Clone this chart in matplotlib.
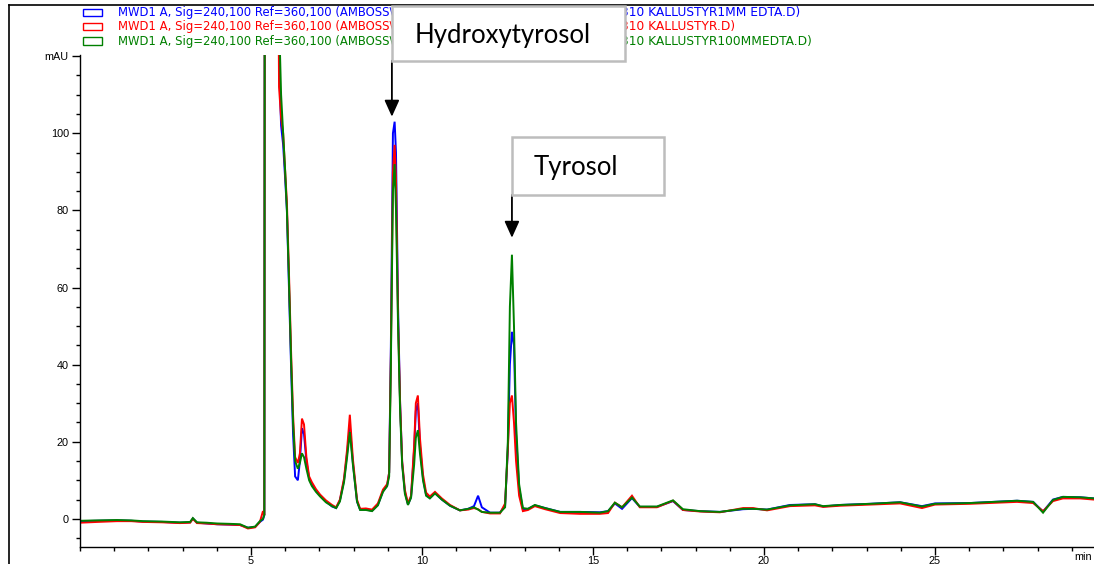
import matplotlib
matplotlib.use("Agg")
import matplotlib.pyplot as plt
from matplotlib.patches import Rectangle
from matplotlib.lines import Line2D
from matplotlib.ticker import MultipleLocator

# ---------------- data ----------------
time_min = [0.00, 0.50, 1.08, 1.50, 1.84, 2.40, 2.92, 3.22, 3.30, 3.42, 3.70, 4.01, 4.40, 4.68,
            4.91, 5.12, 5.26, 5.35, 5.39, 5.41, 5.60, 5.76, 5.82, 5.88, 5.94, 6.00, 6.05, 6.11,
            6.17, 6.23, 6.29, 6.37, 6.43, 6.49, 6.55, 6.62, 6.70, 6.78, 6.90, 7.02, 7.19, 7.37,
            7.49, 7.60, 7.72, 7.81, 7.89, 7.98, 8.10, 8.19, 8.36, 8.54, 8.71, 8.86, 8.98, 9.04,
            9.09, 9.15, 9.20, 9.24, 9.30, 9.36, 9.42, 9.50, 9.59, 9.68, 9.77, 9.82, 9.88, 9.94,
            10.03, 10.12, 10.23, 10.38, 10.58, 10.82, 11.11, 11.35, 11.52, 11.64, 11.75, 11.99,
            12.28, 12.43, 12.51, 12.57, 12.63, 12.69, 12.75, 12.84, 12.95, 13.10, 13.30, 13.60,
            14.04, 14.62, 15.20, 15.44, 15.64, 15.85, 16.14, 16.37, 16.87, 17.34, 17.63, 18.13,
            18.71, 19.39, 19.68, 20.09, 20.76, 21.49, 21.73, 22.22, 23.10, 23.98, 24.62, 25.00,
            26.02, 27.40, 27.87, 28.16, 28.45, 28.74, 29.24, 29.65]

green_100mM_edta = [-0.5, -0.4, -0.3, -0.4, -0.6, -0.7, -0.9, -0.8, 0.2, -0.9, -1.0, -1.2, -1.3, -1.4,
                    -2.3, -2.0, -0.6, 0.0, 1.0, 250, 300, 200, 130, 110, 100, 90, 80, 62,
                    42, 25, 15, 13, 14.5, 17, 16, 13, 10, 8.5, 7, 5.8, 4.3, 3.3,
                    2.8, 4.5, 9.5, 16, 22.5, 14, 4.5, 2.3, 2.3, 2.0, 3.5, 7.0, 8.5, 11,
                    40, 85, 92, 80, 50, 28, 14, 6.5, 3.6, 5.5, 14, 21, 23, 17,
                    10, 6.0, 5.3, 6.6, 5.0, 3.4, 2.2, 2.6, 3.0, 2.4, 1.8, 1.6,
                    1.6, 3.0, 20, 55, 68.5, 50, 25, 9, 2.8, 2.6, 3.6, 2.8,
                    1.8, 1.8, 1.6, 2.0, 4.2, 3.0, 5.5, 3.2, 3.2, 4.8, 2.5, 2.0,
                    1.8, 2.6, 2.6, 2.4, 3.5, 3.8, 3.3, 3.6, 3.9, 4.3, 3.2, 3.9,
                    4.1, 4.7, 4.4, 1.6, 4.9, 5.7, 5.6, 5.3]

blue_1mM_edta = [-0.6, -0.5, -0.4, -0.5, -0.7, -0.8, -1.0, -0.9, 0.1, -1.0, -1.2, -1.4, -1.5, -1.6,
                 -2.3, -2.1, -0.8, -0.2, 1.0, 250, 300, 200, 118, 102, 97, 88, 80, 60,
                 40, 22, 11, 10, 15, 23.5, 22, 15, 10.5, 9, 7.3, 6, 4.5, 3.2,
                 2.8, 4.8, 10, 17, 24, 14.5, 4.5, 2.4, 2.4, 2.1, 3.6, 7.2, 8.5, 12,
                 45, 100, 103, 95, 55, 30, 14.5, 7, 3.7, 5.6, 18, 28, 30, 19,
                 10.5, 6.2, 5.4, 6.7, 5.0, 3.4, 2.2, 2.6, 3.3, 6.0, 3.0, 1.6,
                 1.6, 3.5, 18, 40, 48.5, 45, 22, 8, 2.5, 2.6, 3.5, 2.8,
                 1.8, 1.8, 1.7, 2.0, 4.0, 2.6, 5.4, 3.1, 3.1, 4.6, 2.3, 2.0,
                 1.8, 2.5, 2.6, 2.4, 3.6, 3.8, 3.2, 3.6, 3.9, 4.3, 3.3, 4.0,
                 4.1, 4.7, 4.4, 1.9, 5.0, 5.7, 5.6, 5.3]

red_no_edta = [-1.0, -0.8, -0.6, -0.6, -0.8, -0.9, -1.1, -1.0, 0.0, -1.1, -1.2, -1.4, -1.5, -1.6,
               -2.5, -2.2, -0.8, 2.0, 1.0, 250, 300, 200, 112, 104, 100, 90, 82, 64,
               44, 27, 16, 14.5, 17, 26, 24.5, 16, 11, 9.5, 7.7, 6.3, 4.8, 3.6,
               3.0, 5.0, 10.5, 18, 27, 15.5, 5, 2.6, 2.7, 2.4, 4.0, 7.6, 9.0, 12,
               42, 90, 97, 88, 52, 30, 15, 7.5, 4.0, 6.0, 19, 30, 32, 21,
               11.5, 6.8, 5.8, 7.0, 5.3, 3.6, 2.2, 2.4, 2.8, 2.5, 1.8, 1.4,
               1.4, 4.0, 18, 30, 32, 25, 15, 6, 2.0, 2.3, 3.3, 2.5,
               1.5, 1.3, 1.3, 1.5, 4.2, 3.0, 6.0, 3.0, 3.0, 4.7, 2.3, 1.9,
               1.7, 2.8, 2.8, 2.2, 3.3, 3.5, 3.1, 3.4, 3.7, 4.0, 2.8, 3.7,
               3.9, 4.4, 4.1, 2.0, 4.6, 5.3, 5.3, 5.0]

legend_prefix = "MWD1 A, Sig=240,100 Ref=360,100 (AMBOSS\\"
legend_suffixes = ["310 KALLUSTYR1MM EDTA.D)", "310 KALLUSTYR.D)", "310 KALLUSTYR100MMEDTA.D)"]
trace_colors = ["#0000ff", "#ff0000", "#008000"]

y_ticks = [0, 20, 40, 60, 80, 100, 120]
y_tick_labels = ["0", "20", "40", "60", "80", "100", "mAU"]
x_ticks = [5, 10, 15, 20, 25]
x_tick_labels = ["5", "10", "15", "20", "25"]

# ---------------- figure ----------------
W, H = 1094, 564
fig = plt.figure(figsize=(W / 100, H / 100), dpi=100)
fig.patch.set_facecolor("white")

def fx(px):
    return px / W

def fy(py):
    return 1 - py / H

ax = fig.add_axes([fx(80), fy(547), fx(W) - fx(80), fy(55) - fy(547)])
ax.set_xlim(0, 29.65)
ax.set_ylim(-7.3, 120.3)

for vals, col in zip([blue_1mM_edta, red_no_edta, green_100mM_edta], trace_colors):
    ax.plot(time_min, vals, color=col, lw=1.4, solid_joinstyle="miter")

for s in ["top", "right"]:
    ax.spines[s].set_visible(False)
for s in ["left", "bottom"]:
    ax.spines[s].set_linewidth(1.0)

tick_font = "Liberation Sans"
ax.set_yticks(y_ticks)
ax.set_yticklabels(y_tick_labels, fontfamily=tick_font, fontsize=7.8)
ax.set_xticks(x_ticks)
ax.set_xticklabels(x_tick_labels, fontfamily=tick_font, fontsize=7.8)
ax.xaxis.set_minor_locator(MultipleLocator(1))
ax.yaxis.set_minor_locator(MultipleLocator(5))
ax.tick_params(which="major", direction="out", length=6, width=1, pad=2)
ax.tick_params(axis="x", which="major", pad=0.5)
ax.tick_params(which="minor", direction="out", length=3, width=1)

fig.text(fx(1092), fy(557), "min", fontfamily=tick_font, fontsize=7.8, va="center", ha="right")

# outer frame lines
fig.add_artist(Line2D([fx(9), fx(W)], [fy(5), fy(5)], color="black", lw=1.2))
fig.add_artist(Line2D([fx(9), fx(9)], [fy(5), fy(H)], color="black", lw=1.2))

# legend
row_y = [12.5, 26.5, 41]
for ry, col, suf in zip(row_y, trace_colors, legend_suffixes):
    fig.add_artist(Rectangle((fx(83), fy(ry + 3.5)), fx(19), 7 / H, fill=False,
                             edgecolor=col, lw=1.0))
    fig.text(fx(118), fy(ry), legend_prefix, color=col, fontfamily="DejaVu Sans",
             fontsize=8.4, va="center", ha="left")
    fig.text(fx(621), fy(ry), suf, color=col, fontfamily="DejaVu Sans",
             fontsize=8.8, va="center", ha="left")

# annotation boxes (figure pixel geometry)
def box(x0, x1, y0, y1):
    fig.add_artist(Rectangle((fx(x0), fy(y1)), fx(x1 - x0), (y1 - y0) / H,
                             facecolor="white", edgecolor="#bdbdbd", lw=1.8, zorder=5))

box(392, 625, 6, 61)
fig.text(fx(503), fy(36), "Hydroxytyrosol", fontfamily="Lato", fontsize=18.5,
         ha="center", va="center", zorder=6)
box(512, 664, 137, 195)
fig.text(fx(576), fy(167), "Tyrosol", fontfamily="Lato", fontsize=18.5,
         ha="center", va="center", zorder=6)

# arrows pointing at the peaks (data coordinates)
ax.annotate("", xy=(9.12, 104.3), xytext=(9.12, 118.8), xycoords="data",
            arrowprops=dict(arrowstyle="-|>,head_length=1.0,head_width=0.45",
                            color="black", lw=1.3, shrinkA=0, shrinkB=0),
            annotation_clip=False)
ax.annotate("", xy=(12.63, 72.9), xytext=(12.63, 84.0), xycoords="data",
            arrowprops=dict(arrowstyle="-|>,head_length=1.0,head_width=0.45",
                            color="black", lw=1.3, shrinkA=0, shrinkB=0),
            annotation_clip=False)

fig.savefig("out.png", dpi=100, facecolor="white")
